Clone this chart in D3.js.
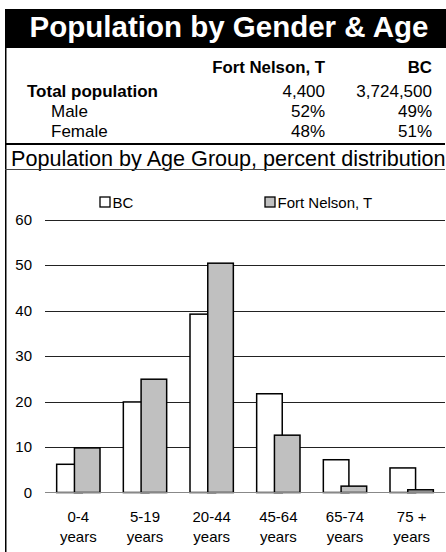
<!DOCTYPE html>
<html><head><meta charset="utf-8">
<script src="https://cdn.jsdelivr.net/npm/d3@7"></script>
<style>html,body{margin:0;padding:0;background:#fff}svg{display:block;font-family:"Liberation Sans",Arial,sans-serif}</style>
</head><body>
<script>
const title = "Population by Gender & Age";
const tableCols = ["Fort Nelson, T", "BC"];
const tableRows = ["Total population", "Male", "Female"];
const fortNelsonStats = ["4,400", "52%", "48%"];
const bcStats = ["3,724,500", "49%", "51%"];
const subtitle = "Population by Age Group, percent distribution";
const categories = ["0-4|years", "5-19|years", "20-44|years", "45-64|years", "65-74|years", "75 +|years"];
const seriesNames = ["BC", "Fort Nelson, T"];
const bcValues = [6.2, 19.9, 39.2, 21.7, 7.2, 5.4];
const fortNelsonValues = [9.8, 24.9, 50.4, 12.6, 1.4, 0.6];
const yTicks = [0, 10, 20, 30, 40, 50, 60];

const W = 446, H = 552;
const svg = d3.select("body").append("svg").attr("width", W).attr("height", H);

// Title band
svg.append("rect").attr("x", 5).attr("y", 9).attr("width", W - 5).attr("height", 39).attr("fill", "#000");
svg.append("text").attr("x", 229).attr("y", 37).attr("text-anchor", "middle")
  .attr("fill", "#fff").attr("font-weight", "bold").attr("font-size", 29.5).text(title);

// left border
svg.append("line").attr("x1", 5.75).attr("x2", 5.75).attr("y1", 48).attr("y2", H)
  .attr("stroke", "#000").attr("stroke-width", 1.5);

// Table
const colX = [325, 432];
const hdr = svg.append("g").attr("font-weight", "bold").attr("font-size", 16.8);
tableCols.forEach((c, i) => hdr.append("text").attr("x", colX[i]).attr("y", 72.5).attr("text-anchor", "end").text(c));
const rowY = [96.5, 116.5, 136.5];
tableRows.forEach((r, i) => {
  svg.append("text").attr("x", i === 0 ? 27 : 51).attr("y", rowY[i]).attr("font-size", 17)
    .attr("font-weight", i === 0 ? "bold" : "normal").text(r);
  svg.append("text").attr("x", colX[0]).attr("y", rowY[i]).attr("font-size", 17).attr("text-anchor", "end").text(fortNelsonStats[i]);
  svg.append("text").attr("x", colX[1]).attr("y", rowY[i]).attr("font-size", 17).attr("text-anchor", "end").text(bcStats[i]);
});
svg.append("line").attr("x1", 5).attr("x2", 445).attr("y1", 144).attr("y2", 144).attr("stroke", "#000").attr("stroke-width", 2.2);
svg.append("text").attr("x", 11).attr("y", 165.5).attr("font-size", 21.6).text(subtitle);
svg.append("line").attr("x1", 5).attr("x2", 445).attr("y1", 169.5).attr("y2", 169.5).attr("stroke", "#444").attr("stroke-width", 1);

// Chart
const plot = {left: 45, right: 445, top: 219.5, bottom: 492.5};
const x = d3.scaleBand().domain(categories).range([plot.left, plot.right]).paddingInner(0.35).paddingOuter(0.175);
const y = d3.scaleLinear().domain([0, 60]).range([plot.bottom, plot.top]);
const bw = x.bandwidth() * 0.59;
const offsets = [0, x.bandwidth() - bw];
const fills = ["#ffffff", "#c0c0c0"];
const seriesValues = [bcValues, fortNelsonValues];

// gridlines
svg.append("g").selectAll("line").data(yTicks.filter(d => d > 0)).join("line")
  .attr("x1", plot.left).attr("x2", plot.right)
  .attr("y1", d => Math.round(y(d)) + 0.5).attr("y2", d => Math.round(y(d)) + 0.5)
  .attr("stroke", "#222").attr("stroke-width", 1);

// y axis labels
const yAxis = d3.axisLeft(y).tickValues(yTicks).tickSize(0).tickPadding(13);
const yg = svg.append("g").attr("transform", `translate(${plot.left},0)`).call(yAxis);
yg.select(".domain").remove();
yg.selectAll("text").attr("font-size", 15).attr("font-family", "Liberation Sans, Arial, sans-serif").attr("fill", "#000");

// bars
seriesValues.forEach((vals, si) => {
  svg.append("g").selectAll("rect").data(vals).join("rect")
    .attr("x", (d, i) => x(categories[i]) + offsets[si])
    .attr("y", d => y(d))
    .attr("width", bw)
    .attr("height", d => y(0) - y(d))
    .attr("fill", fills[si]).attr("stroke", "#000").attr("stroke-width", 1.5);
});

// baseline
svg.append("line").attr("x1", plot.left).attr("x2", plot.right).attr("y1", plot.bottom).attr("y2", plot.bottom)
  .attr("stroke", "#888").attr("stroke-width", 1);

// x labels
const xAxis = d3.axisBottom(x).tickSize(0).tickFormat(() => "");
const xg = svg.append("g").attr("transform", `translate(0,${plot.bottom})`).call(xAxis);
xg.select(".domain").remove();
xg.selectAll(".tick").each(function(d) {
  const parts = d.split("|");
  const t = d3.select(this).append("text").attr("fill", "#000").attr("font-size", 15)
    .attr("font-family", "Liberation Sans, Arial, sans-serif").attr("text-anchor", "middle");
  parts.forEach((p, i) => t.append("tspan").attr("x", 0).attr("y", 29 + i * 20.5).text(p));
});

// legend
const legendX = [100, 265];
seriesNames.forEach((n, i) => {
  const g = svg.append("g").attr("transform", `translate(${legendX[i]},197)`);
  g.append("rect").attr("x", 0).attr("y", 0).attr("width", 10).attr("height", 10)
    .attr("fill", fills[i]).attr("stroke", "#000").attr("stroke-width", 1.3);
  g.append("text").attr("x", 12.5).attr("y", 10.5).attr("font-size", 15).text(n);
});
</script>
</body></html>
